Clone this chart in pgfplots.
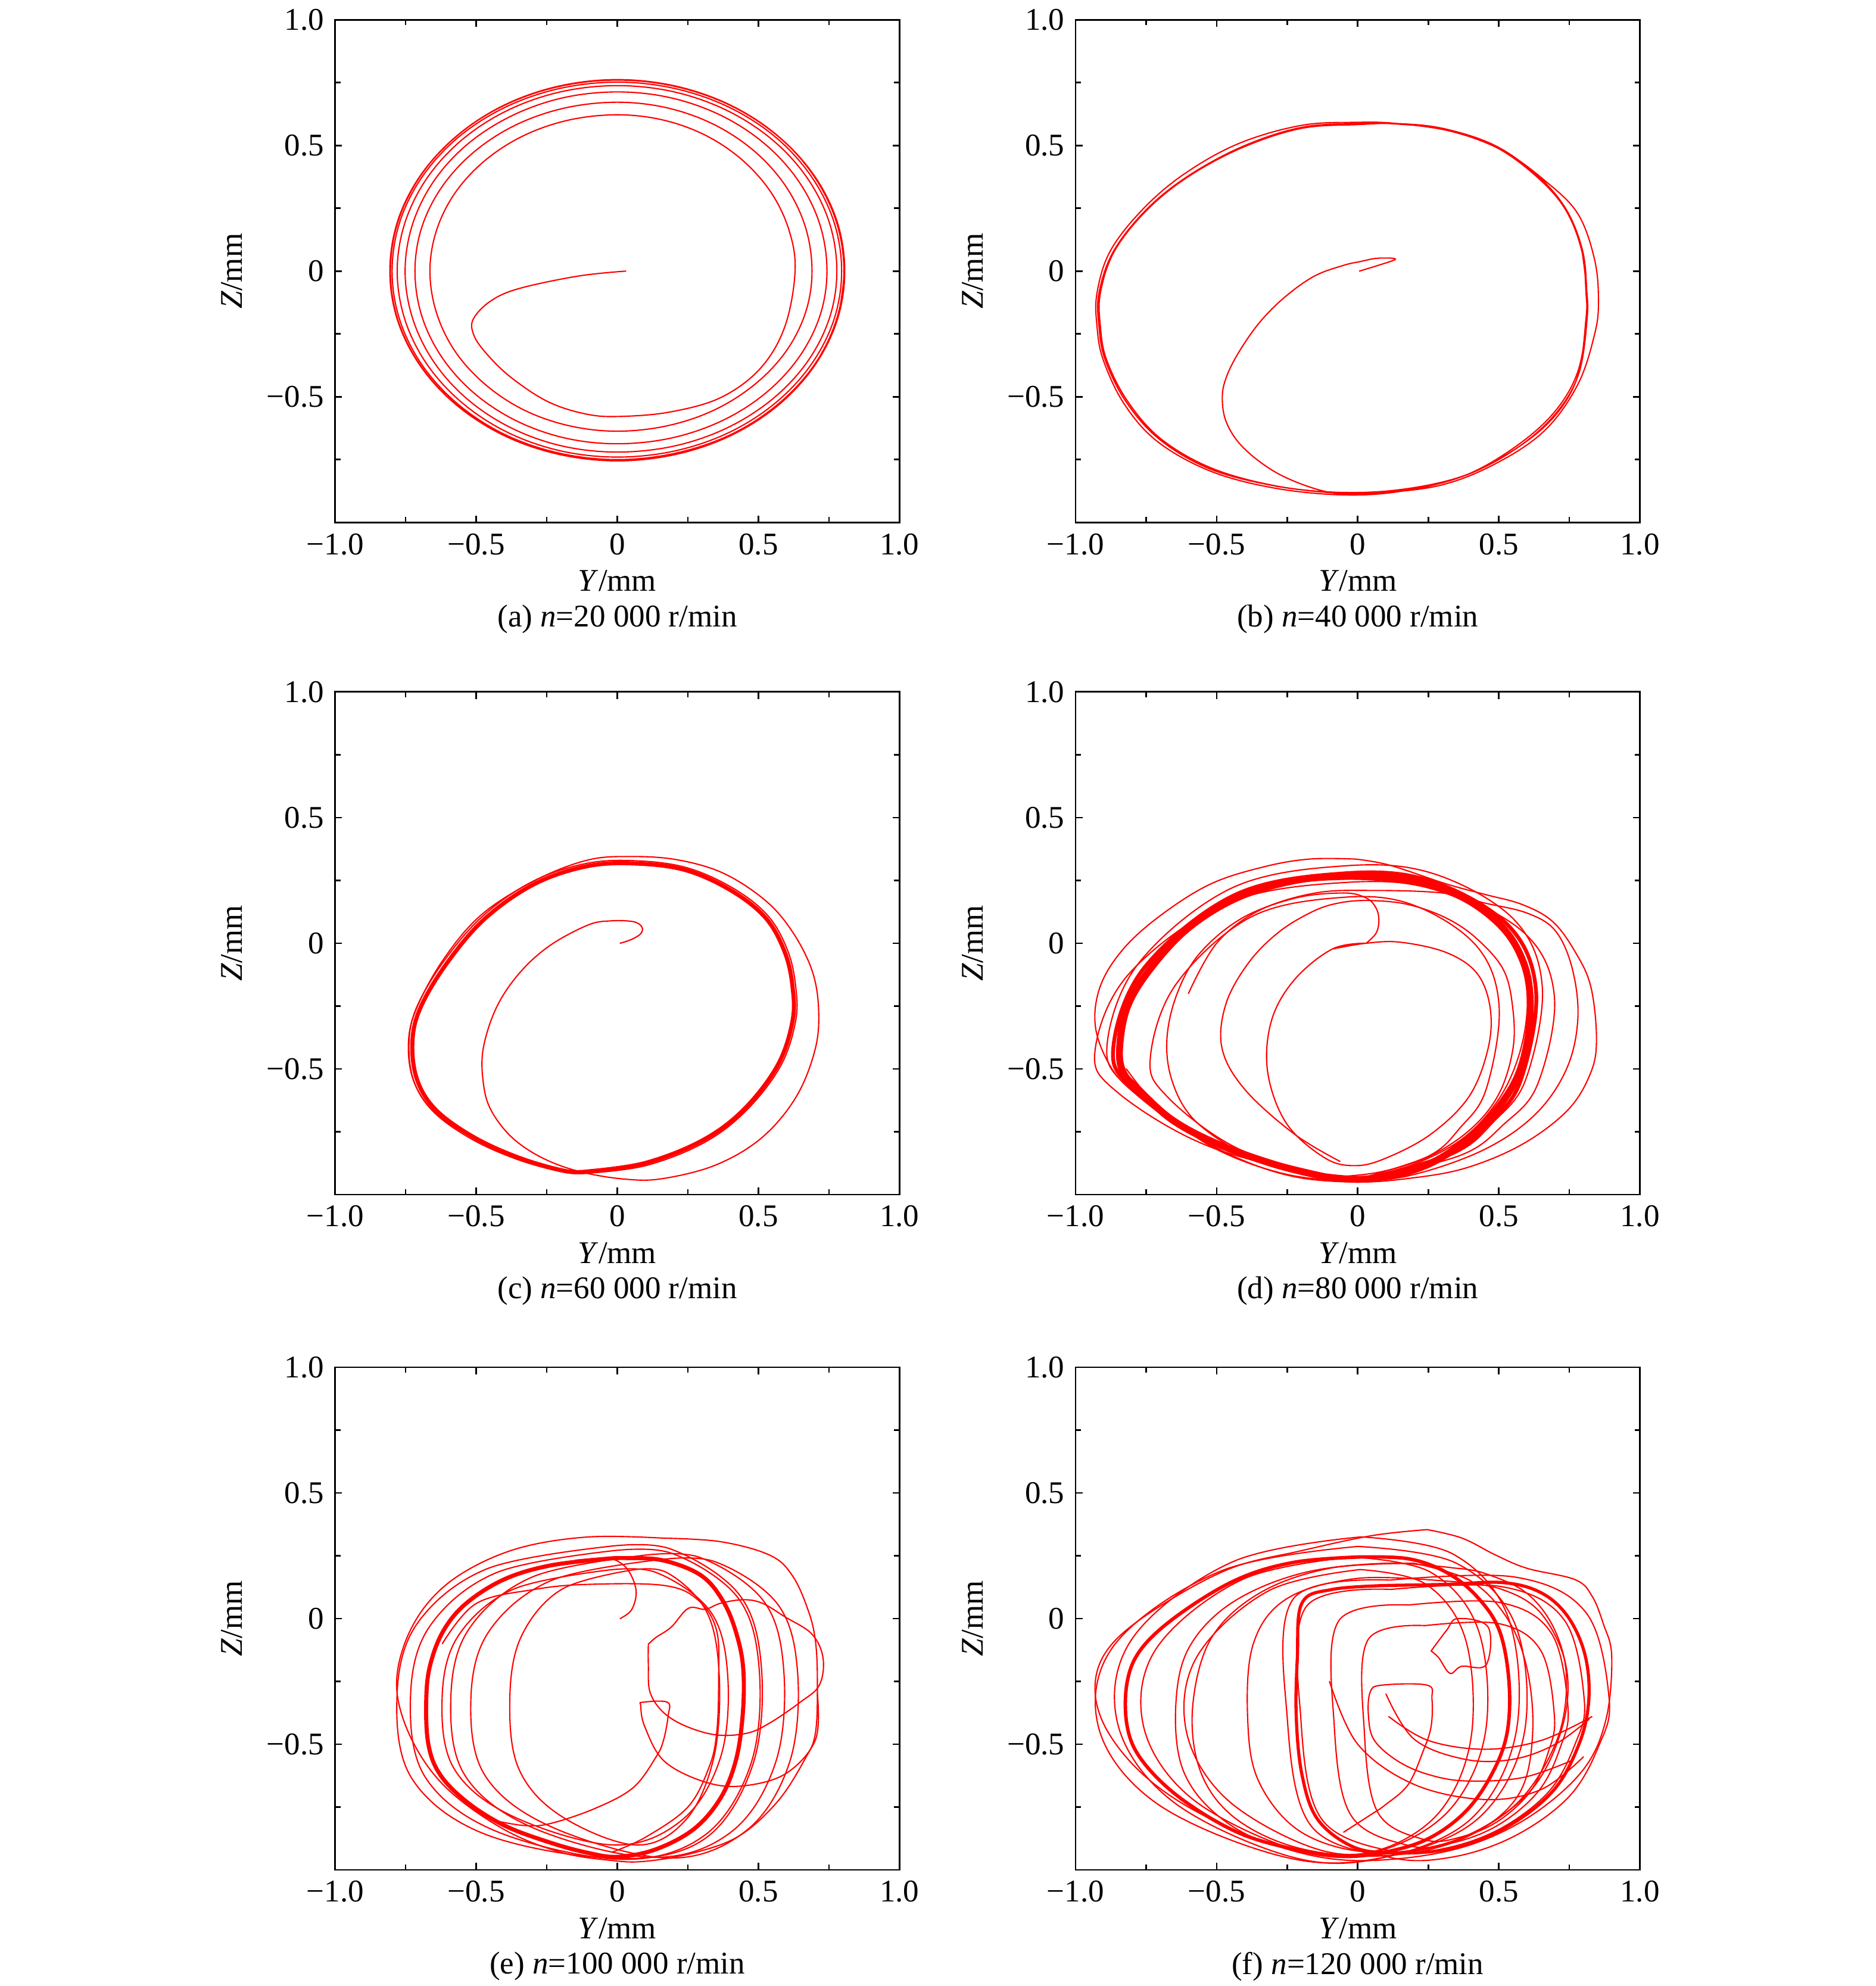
\documentclass[border=0pt]{standalone}
\usepackage{fontspec}
\setmainfont{Liberation Serif}
\usepackage{pgfplots}
\pgfplotsset{compat=1.18}
\pgfplotsset{
  orb/.style={
    scale only axis, width=178.8pt, height=159.25pt,
    anchor=south west,
    xmin=-1, xmax=1, ymin=-1, ymax=1,
    xtick={-1,-0.5,0,0.5,1}, ytick={-1,-0.5,0,0.5,1},
    xticklabels={−1.0,−0.5,0,0.5,1.0},
    yticklabels={,−0.5,0,0.5,1.0},
    minor tick num=1,
    tick align=inside, xtick pos=both, ytick pos=both,
    major tick length=2.2pt, minor tick length=1.7pt,
    tick style={black, line width=0.5pt},
    axis line style={line width=0.55pt},
    xlabel={\textit{Y}/mm}, ylabel={\textit{Z}/mm},
    xlabel style={at={(axis description cs:0.5,-0.116)}, anchor=center},
    ylabel style={at={(axis description cs:-0.1826,0.5)}, anchor=center},
  },
  tr/.style={color=red, line width=0.4pt, smooth, tension=0.6, mark=none, line join=round, line cap=round},
}
\begin{document}
\begin{tikzpicture}
\useasboundingbox (0pt,0pt) rectangle (594.3pt,629.25pt);

% ---------------- (a)
\begin{axis}[orb, name=pa, at={(106.17pt,463.72pt)}]
\addplot[tr] coordinates {
(0.03,0) (-0.14,-0.02) (-0.35,-0.07) (-0.45,-0.12) (-0.51,-0.19) (-0.51,-0.25) (-0.47,-0.32) (-0.38,-0.42) (-0.245,-0.52) (-0.105,-0.57) (0.017,-0.578) (0.19,-0.56) (0.367,-0.503) (0.507,-0.387) (0.594,-0.22)
(0.63,0) (0.609,0.161) (0.546,0.311) (0.445,0.44) (0.315,0.539) (0.163,0.601) (0,0.622) (-0.172,0.601) (-0.332,0.539) (-0.469,0.44) (-0.575,0.311) (-0.641,0.161) (-0.664,0) (-0.641,-0.165) (-0.575,-0.319) (-0.469,-0.45) (-0.332,-0.552) (-0.172,-0.615) (0,-0.637) (0.179,-0.615) (0.345,-0.552) (0.488,-0.45) (0.598,-0.319) (0.667,-0.165)
(0.69,0) (0.667,0.174) (0.598,0.336) (0.488,0.475) (0.345,0.582) (0.179,0.649) (0,0.672) (-0.186,0.649) (-0.359,0.582) (-0.507,0.475) (-0.621,0.336) (-0.693,0.174) (-0.717,0) (-0.693,-0.178) (-0.621,-0.344) (-0.507,-0.486) (-0.359,-0.595) (-0.186,-0.664) (0,-0.687) (0.192,-0.664) (0.372,-0.595) (0.525,-0.486) (0.643,-0.344) (0.718,-0.178)
(0.743,0) (0.718,0.185) (0.643,0.357) (0.525,0.504) (0.372,0.617) (0.192,0.689) (0,0.713) (-0.195,0.689) (-0.376,0.617) (-0.532,0.504) (-0.651,0.357) (-0.726,0.185) (-0.752,0) (-0.726,-0.186) (-0.651,-0.36) (-0.532,-0.509) (-0.376,-0.624) (-0.195,-0.696) (0,-0.72) (0.202,-0.696) (0.389,-0.624) (0.55,-0.509) (0.674,-0.36) (0.752,-0.186)
(0.778,0) (0.752,0.191) (0.674,0.369) (0.55,0.522) (0.389,0.639) (0.202,0.713) (0,0.738) (-0.202,0.713) (-0.39,0.639) (-0.551,0.522) (-0.675,0.369) (-0.753,0.191) (-0.78,0) (-0.753,-0.192) (-0.675,-0.37) (-0.551,-0.523) (-0.39,-0.641) (-0.202,-0.715) (0,-0.74) (0.206,-0.715) (0.398,-0.641) (0.562,-0.523) (0.688,-0.37) (0.768,-0.192)
(0.795,0) (0.768,0.195) (0.688,0.376) (0.562,0.532) (0.398,0.651) (0.206,0.726) (0,0.752) (-0.207,0.726) (-0.399,0.651) (-0.564,0.532) (-0.691,0.376) (-0.771,0.195) (-0.798,0) (-0.771,-0.194) (-0.691,-0.375) (-0.564,-0.53) (-0.399,-0.65) (-0.207,-0.724) (0,-0.75) (0.208,-0.724) (0.403,-0.65) (0.569,-0.53) (0.697,-0.375) (0.778,-0.194)
(0.805,0) (0.778,0.197) (0.697,0.38) (0.569,0.537) (0.403,0.658) (0.208,0.734) (0,0.76) (-0.209,0.734) (-0.403,0.658) (-0.57,0.537) (-0.698,0.38) (-0.779,0.197) (-0.806,0) (-0.779,-0.195) (-0.698,-0.377) (-0.57,-0.533) (-0.403,-0.653) (-0.209,-0.728) (0,-0.754) (0.208,-0.728) (0.402,-0.653) (0.568,-0.533) (0.696,-0.377) (0.776,-0.195)
(0.803,0) (0.776,0.197) (0.695,0.381) (0.568,0.539) (0.402,0.66) (0.208,0.736) (0,0.762) (-0.208,0.736) (-0.402,0.66) (-0.568,0.539) (-0.696,0.381) (-0.777,0.197) (-0.804,0) (-0.777,-0.196) (-0.696,-0.378) (-0.568,-0.534) (-0.402,-0.654) (-0.208,-0.729) (0,-0.755) (0.209,-0.729) (0.403,-0.654) (0.57,-0.534) (0.698,-0.378) (0.779,-0.196)
(0.806,0) (0.779,0.197) (0.698,0.38) (0.57,0.537) (0.403,0.658) (0.209,0.734) (0,0.76) (-0.208,0.734) (-0.403,0.659) (-0.569,0.537) (-0.697,0.38) (-0.778,0.197) (-0.805,0) (-0.778,-0.195) (-0.697,-0.377) (-0.569,-0.533) (-0.403,-0.653) (-0.208,-0.728) (0,-0.754) (0.208,-0.728) (0.402,-0.653) (0.569,-0.533) (0.697,-0.377) (0.778,-0.195) (0.805,0)
};
\end{axis}
\node at ([yshift=-30.58pt]pa.south) {(a) \textit{n}=20 000 r/min};

% ---------------- (b)
\begin{axis}[orb, name=pb, at={(340.75pt,463.72pt)}]
\addplot[tr] coordinates {
(0.006,0) (0.07,0.022) (0.127,0.043) (0.13,0.05) (0.1,0.052) (0.06,0.05) (0.009,0.038) (-0.05,0.023) (-0.154,-0.02) (-0.258,-0.103) (-0.347,-0.203) (-0.42,-0.32) (-0.465,-0.42) (-0.48,-0.503) (-0.465,-0.603) (-0.405,-0.703) (-0.287,-0.803) (-0.139,-0.87) (-0.02,-0.887) (0.142,-0.873) (0.364,-0.82) (0.542,-0.72) (0.69,-0.587) (0.779,-0.42) (0.809,-0.187) (0.809,-0.087) (0.794,0.08) (0.735,0.247) (0.63,0.38) (0.483,0.497) (0.305,0.563) (0.142,0.585) (0,0.587) (-0.199,0.572) (-0.406,0.497) (-0.599,0.38) (-0.747,0.247) (-0.865,0.08) (-0.917,-0.087) (-0.917,-0.22) (-0.895,-0.353) (-0.821,-0.52) (-0.702,-0.67) (-0.524,-0.787) (-0.302,-0.853) (-0.08,-0.883) (0.068,-0.883) (0.29,-0.853) (0.482,-0.77) (0.66,-0.637) (0.779,-0.453) (0.839,-0.253) (0.853,-0.12) (0.839,0.047) (0.779,0.23) (0.66,0.363) (0.513,0.48) (0.335,0.555) (0.142,0.587) (0,0.592) (-0.199,0.58) (-0.421,0.508) (-0.613,0.388) (-0.761,0.247) (-0.877,0.08) (-0.924,-0.087) (-0.924,-0.22) (-0.902,-0.353) (-0.828,-0.528) (-0.71,-0.678) (-0.524,-0.795) (-0.302,-0.862) (-0.065,-0.89) (0.142,-0.878) (0.364,-0.82) (0.542,-0.712) (0.69,-0.57) (0.779,-0.403) (0.812,-0.187) (0.812,-0.087) (0.797,0.08) (0.738,0.247) (0.634,0.383) (0.486,0.5) (0.305,0.567) (0.142,0.587) (0,0.583) (-0.199,0.568) (-0.406,0.493) (-0.599,0.377) (-0.747,0.243) (-0.862,0.08) (-0.912,-0.087) (-0.912,-0.22) (-0.89,-0.353) (-0.816,-0.517) (-0.698,-0.667) (-0.52,-0.783) (-0.298,-0.853) (-0.076,-0.88) (0.147,-0.87) (0.369,-0.817) (0.547,-0.717) (0.693,-0.578) (0.782,-0.412) (0.813,-0.187) (0.81,-0.06) (0.795,0.08)
};
\end{axis}
\node at ([yshift=-30.58pt]pb.south) {(b) \textit{n}=40 000 r/min};

% ---------------- (c)
\begin{axis}[orb, name=pc, at={(106.17pt,250.76pt)}]
\addplot[tr] coordinates {
(0.01,0) (0.05,0.015) (0.083,0.038) (0.087,0.065) (0.056,0.086) (-0.024,0.089) (-0.105,0.072) (-0.24,-0.01) (-0.347,-0.119) (-0.428,-0.255) (-0.475,-0.418) (-0.475,-0.554) (-0.448,-0.663) (-0.374,-0.772) (-0.266,-0.854) (-0.132,-0.909) (0.03,-0.939) (0.164,-0.936) (0.352,-0.881) (0.514,-0.772) (0.635,-0.609) (0.702,-0.418) (0.713,-0.255) (0.689,-0.105) (0.621,0.045) (0.527,0.168) (0.379,0.277) (0.218,0.331) (0.056,0.345) (-0.105,0.331) (-0.293,0.249) (-0.482,0.113) (-0.616,-0.064) (-0.71,-0.255) (-0.74,-0.391) (-0.724,-0.541) (-0.656,-0.663) (-0.535,-0.759) (-0.374,-0.841) (-0.186,-0.909) (-0.105,-0.912)
};
\addplot[tr, line width=1.3pt] coordinates {
(-0.105,-0.908) (0.097,-0.875) (0.299,-0.786) (0.447,-0.663) (0.568,-0.486) (0.621,-0.309) (0.621,-0.173) (0.594,-0.037) (0.527,0.099) (0.406,0.208) (0.245,0.29) (0.07,0.317) (-0.105,0.307) (-0.293,0.236) (-0.468,0.099) (-0.603,-0.078) (-0.697,-0.255) (-0.726,-0.391) (-0.71,-0.541) (-0.643,-0.663) (-0.508,-0.772) (-0.347,-0.854) (-0.186,-0.906) (-0.105,-0.908)
};
\addplot[tr] coordinates {
(-0.105,-0.915) (0.1,-0.885) (0.305,-0.795) (0.455,-0.668) (0.578,-0.49) (0.632,-0.309) (0.632,-0.17) (0.604,-0.03) (0.535,0.108) (0.412,0.218) (0.248,0.3) (0.07,0.328) (-0.108,0.318) (-0.3,0.246) (-0.478,0.107) (-0.615,-0.072) (-0.71,-0.252) (-0.738,-0.391) (-0.722,-0.545) (-0.652,-0.67) (-0.515,-0.78) (-0.35,-0.862) (-0.186,-0.912) (-0.105,-0.915)
};
\end{axis}
\node at ([yshift=-30.58pt]pc.south) {(c) \textit{n}=60 000 r/min};

% ---------------- (d)
\begin{axis}[orb, name=pd, at={(340.75pt,250.76pt)}]
\addplot[tr, line width=2.2pt] coordinates {
(-0.117,-0.929) (0.018,-0.939) (0.179,-0.909) (0.314,-0.841) (0.448,-0.718) (0.556,-0.554) (0.603,-0.377) (0.61,-0.2) (0.583,-0.064) (0.516,0.059) (0.395,0.168) (0.246,0.236) (0.085,0.263) (-0.05,0.266) (-0.225,0.249) (-0.427,0.181) (-0.602,0.059) (-0.737,-0.105) (-0.817,-0.255) (-0.844,-0.418) (-0.831,-0.514) (-0.777,-0.582) (-0.656,-0.704) (-0.494,-0.8) (-0.292,-0.881) (-0.117,-0.929)
};
\addplot[tr, line width=1.2pt] coordinates {
(0.022,-0.939) (0.327,-0.840) (0.465,-0.716) (0.576,-0.550) (0.632,-0.193) (0.535,0.069) (0.257,0.248) (-0.048,0.278) (-0.436,0.192) (-0.756,-0.097) (-0.866,-0.413) (-0.797,-0.578) (-0.505,-0.799) (-0.117,-0.929) (0.022,-0.939)
};
\addplot[tr] coordinates {
(0.026,-0.939) (0.34,-0.838) (0.482,-0.710) (0.596,-0.540) (0.654,-0.174) (0.554,0.094) (0.268,0.277) (-0.046,0.308) (-0.446,0.220) (-0.774,-0.076) (-0.888,-0.400) (-0.817,-0.569) (-0.517,-0.795) (-0.117,-0.929) (0.026,-0.939)
};
\addplot[tr] coordinates {
(0.034,-0.939) (0.366,-0.843) (0.516,-0.722) (0.637,-0.562) (0.697,-0.215) (0.592,0.039) (0.290,0.212) (-0.042,0.242) (-0.464,0.159) (-0.811,-0.122) (-0.931,-0.428) (-0.856,-0.589) (-0.539,-0.803) (-0.117,-0.929) (0.034,-0.939)
};
\addplot[tr] coordinates {
(-0.002,-0.939) (0.249,-0.848) (0.363,-0.734) (0.455,-0.581) (0.501,-0.252) (0.421,-0.011) (0.192,0.154) (-0.060,0.182) (-0.381,0.103) (-0.644,-0.163) (-0.735,-0.455) (-0.678,-0.607) (-0.437,-0.810) (-0.117,-0.93) (-0.002,-0.939)
};
\addplot[tr] coordinates {
(-0.009,0.335) (0.112,0.311) (0.314,0.236) (0.448,0.195) (0.583,0.154) (0.691,0.086) (0.772,-0.037) (0.826,-0.173) (0.846,-0.377) (0.826,-0.514) (0.745,-0.663) (0.583,-0.8) (0.381,-0.895) (0.179,-0.936) (-0.009,-0.95) (-0.225,-0.929) (-0.427,-0.854) (-0.629,-0.732) (-0.777,-0.609) (-0.871,-0.5) (-0.929,-0.337) (-0.913,-0.173) (-0.831,-0.023) (-0.696,0.113) (-0.521,0.236) (-0.333,0.304) (-0.171,0.335) (-0.009,0.335)
};
\addplot[tr] coordinates {
(0.03,0.0) (0.065,0.04) (0.075,0.09) (0.065,0.14) (0.03,0.18) (-0.05,0.2) (-0.22,0.18) (-0.41,0.1) (-0.56,-0.04) (-0.64,-0.2) (-0.676,-0.377) (-0.66,-0.54) (-0.59,-0.69) (-0.45,-0.81) (-0.28,-0.895) (-0.1,-0.93) (0.05,-0.925) (0.22,-0.87) (0.38,-0.77) (0.5,-0.62) (0.57,-0.45) (0.6,-0.27) (0.59,-0.1) (0.53,0.04) (0.41,0.15) (0.25,0.22) (0.08,0.25) (-0.06,0.255)
};
\addplot[tr] coordinates {
(-0.09,-0.023) (0.03,0.0) (0.152,0.004) (0.314,-0.037) (0.422,-0.119) (0.469,-0.255) (0.462,-0.418) (0.395,-0.609) (0.26,-0.759) (0.1,-0.855) (-0.01,-0.885) (-0.117,-0.854) (-0.252,-0.718) (-0.319,-0.514) (-0.306,-0.309) (-0.225,-0.146) (-0.09,-0.023) (0.03,0.0)
};
\addplot[tr] coordinates {
(-0.063,-0.868) (-0.225,-0.759) (-0.4,-0.582) (-0.481,-0.418) (-0.467,-0.241) (-0.387,-0.078) (-0.279,0.045) (-0.158,0.127) (-0.063,0.161) (0.044,0.17) (0.179,0.154) (0.314,0.1) (0.422,0.018) (0.516,-0.105) (0.549,-0.255) (0.55,-0.42) (0.5,-0.6) (0.4,-0.74) (0.25,-0.85) (0.08,-0.91) (-0.08,-0.93)
};
\addplot[tr] coordinates {
(-0.6,-0.2) (-0.5,0.0) (-0.35,0.13) (-0.15,0.2) (0.05,0.21) (0.3,0.2) (0.45,0.16) (0.6,0.12) (0.7,0.05) (0.76,-0.1) (0.78,-0.3) (0.74,-0.5) (0.63,-0.68) (0.45,-0.82) (0.2,-0.92) (0.0,-0.945) (-0.25,-0.92) (-0.5,-0.82) (-0.7,-0.66) (-0.82,-0.5)
};
\end{axis}
\node at ([yshift=-30.58pt]pd.south) {(d) \textit{n}=80 000 r/min};

% ---------------- (e)
\begin{axis}[orb, name=pe, at={(106.17pt,36.79pt)}]
\addplot[tr, line width=1.3pt] coordinates {
(-0.038,0.238) (-0.239,0.211) (-0.401,0.156) (-0.535,0.061) (-0.616,-0.048) (-0.663,-0.184) (-0.677,-0.32) (-0.67,-0.497) (-0.629,-0.619) (-0.535,-0.728) (-0.401,-0.823) (-0.239,-0.891) (-0.105,-0.932) (0.003,-0.948) (0.137,-0.918) (0.272,-0.837) (0.366,-0.714) (0.42,-0.565) (0.444,-0.388) (0.447,-0.211) (0.426,-0.075) (0.379,0.061) (0.299,0.17) (0.164,0.231) (0.03,0.241) (-0.038,0.238)
};
\addplot[tr] coordinates {
(0.01,0) (0.05,0.034) (0.067,0.102) (0.05,0.17) (0.016,0.218) (-0.038,0.24) (-0.15,0.232)
};
\addplot[tr] coordinates {
(-0.030,0.268) (-0.430,0.182) (-0.666,-0.033) (-0.733,-0.318) (-0.680,-0.632) (-0.430,-0.846) (0.015,-0.958) (0.311,-0.861) (0.474,-0.576) (0.503,-0.204) (0.428,0.082) (0.192,0.260) (-0.030,0.268)
};
\addplot[tr] coordinates {
(-0.046,0.285) (-0.464,0.197) (-0.711,-0.023) (-0.781,-0.317) (-0.726,-0.640) (-0.464,-0.860) (0.001,-0.955) (0.310,-0.876) (0.480,-0.582) (0.511,-0.199) (0.433,0.094) (0.186,0.278) (-0.046,0.285)
};
\addplot[tr] coordinates {
(0.081,0.250) (-0.300,0.166) (-0.526,-0.042) (-0.590,-0.319) (-0.540,-0.624) (-0.300,-0.832) (0.124,-0.95) (0.406,-0.847) (0.562,-0.569) (0.590,-0.208) (0.519,0.069) (0.293,0.243) (0.081,0.250)
};
\addplot[tr] coordinates {
(-0.046,0.191) (-0.372,0.115) (-0.566,-0.073) (-0.621,-0.323) (-0.578,-0.598) (-0.372,-0.786) (-0.009,-0.901) (0.233,-0.798) (0.367,-0.548) (0.391,-0.223) (0.330,0.028) (0.136,0.184) (-0.046,0.191)
};
\addplot[tr] coordinates {
(0.041,0.191) (-0.199,0.115) (-0.341,-0.073) (-0.381,-0.323) (-0.349,-0.598) (-0.199,-0.786) (0.068,-0.901) (0.245,-0.798) (0.343,-0.548) (0.361,-0.223) (0.316,0.028) (0.174,0.184) (0.041,0.191)
};
\addplot[tr] coordinates {
(0.139,0.233) (-0.235,0.151) (-0.456,-0.053) (-0.519,-0.325) (-0.469,-0.624) (-0.235,-0.828) (0.182,-0.953) (0.459,-0.842) (0.611,-0.57) (0.639,-0.216) (0.569,0.056) (0.347,0.226) (0.139,0.233)
};
\addplot[tr] coordinates {
(0.11,-0.102) (0.137,-0.075) (0.191,-0.034) (0.252,0.041) (0.312,0.037) (0.366,0.061) (0.447,0.075) (0.514,0.061) (0.594,0.007) (0.689,-0.061) (0.729,-0.156) (0.716,-0.265) (0.648,-0.333) (0.541,-0.415) (0.46,-0.456) (0.352,-0.463) (0.245,-0.429) (0.164,-0.374) (0.116,-0.293) (0.11,-0.184) (0.11,-0.102)
};
\addplot[tr] coordinates {
(0.164,0.32) (0.366,0.306) (0.541,0.252) (0.621,0.17) (0.676,0.034) (0.702,-0.088) (0.709,-0.252) (0.702,-0.456) (0.662,-0.565) (0.568,-0.728) (0.433,-0.864) (0.272,-0.932) (0.097,-0.966) (-0.024,-0.962) (-0.2,-0.93) (-0.4,-0.84) (-0.6,-0.68) (-0.72,-0.5) (-0.78,-0.3) (-0.76,-0.12) (-0.68,0.05) (-0.55,0.18) (-0.35,0.28) (-0.1,0.325) (0.164,0.32)
};
\addplot[tr] coordinates {
(0.709,-0.3) (0.702,-0.483) (0.594,-0.619) (0.433,-0.667) (0.299,-0.646) (0.164,-0.565) (0.097,-0.429) (0.083,-0.347) (0.09,-0.333) (0.178,-0.333) (0.18,-0.388) (0.164,-0.483) (0.137,-0.551) (0.056,-0.673) (-0.078,-0.755) (-0.239,-0.816) (-0.334,-0.823) (-0.45,-0.8)
};
\addplot[tr] coordinates {
(-0.62,-0.1) (-0.5,0.06) (-0.293,0.116) (-0.105,0.136) (0.164,0.132) (0.285,0.075) (0.352,-0.048) (0.359,-0.252) (0.352,-0.456) (0.325,-0.592) (0.25,-0.75) (0.1,-0.87) (-0.02,-0.93)
};
\end{axis}
\node at ([yshift=-30.58pt]pe.south) {(e) \textit{n}=100 000 r/min};

% ---------------- (f)
\begin{axis}[orb, name=pf, at={(340.75pt,36.79pt)}]
\addplot[tr, line width=1.1pt] coordinates {
(0.004,0.245) (-0.225,0.224) (-0.427,0.156) (-0.629,0.02) (-0.764,-0.116) (-0.817,-0.252) (-0.817,-0.429) (-0.764,-0.565) (-0.629,-0.714) (-0.427,-0.85) (-0.225,-0.918) (-0.063,-0.946) (0.085,-0.932) (0.246,-0.878) (0.381,-0.769) (0.475,-0.619) (0.529,-0.456) (0.536,-0.252) (0.502,-0.048) (0.422,0.088) (0.314,0.184) (0.179,0.238) (0.004,0.245)
};
\addplot[tr] coordinates {
(0.001,0.287) (-0.481,0.191) (-0.859,-0.100) (-0.918,-0.435) (-0.708,-0.739) (-0.255,-0.95) (0.092,-0.95) (0.424,-0.798) (0.589,-0.463) (0.559,-0.027) (0.348,0.221) (0.001,0.287)
};
\addplot[tr] coordinates {
(0.011,0.325) (-0.441,0.227) (-0.795,-0.073) (-0.851,-0.417) (-0.653,-0.730) (-0.229,-0.95) (0.096,-0.95) (0.407,-0.791) (0.562,-0.447) (0.534,0.002) (0.337,0.257) (0.011,0.325)
};
\addplot[tr] coordinates {
(0.008,0.195) (-0.315,0.111) (-0.568,-0.148) (-0.608,-0.445) (-0.467,-0.716) (-0.164,-0.910) (0.069,-0.923) (0.291,-0.768) (0.402,-0.471) (0.382,-0.083) (0.241,0.137) (0.008,0.195)
};
\addplot[tr] coordinates {
(-0.020,0.245) (-0.408,0.156) (-0.712,-0.116) (-0.759,-0.429) (-0.590,-0.714) (-0.227,-0.918) (0.053,-0.932) (0.319,-0.769) (0.452,-0.456) (0.428,-0.048) (0.259,0.184) (-0.020,0.245)
};
\addplot[tr, line width=1.0pt] coordinates {
(0.112,0.132) (0.314,0.136) (0.516,0.143) (0.651,0.102) (0.745,0.007) (0.805,-0.143) (0.819,-0.32) (0.785,-0.497) (0.691,-0.687) (0.516,-0.837) (0.314,-0.918) (0.112,-0.932) (-0.023,-0.905) (-0.144,-0.796) (-0.198,-0.619) (-0.218,-0.388) (-0.214,-0.156) (-0.198,0.061) (-0.09,0.116) (0.112,0.132)
};
\addplot[tr] coordinates {
(0.113,0.153) (0.558,0.165) (0.810,0.022) (0.891,-0.321) (0.854,-0.507) (0.750,-0.707) (0.558,-0.864) (0.335,-0.949) (0.113,-0.95) (-0.168,-0.821) (-0.250,-0.393) (-0.228,0.079) (0.113,0.153)
};
\addplot[tr] coordinates {
(0.180,0.054) (0.503,0.064) (0.686,-0.058) (0.745,-0.353) (0.718,-0.512) (0.643,-0.683) (0.503,-0.818) (0.341,-0.891) (0.180,-0.903) (-0.025,-0.781) (-0.084,-0.414) (-0.068,-0.010) (0.180,0.054)
};
\addplot[tr] coordinates {
(0.238,-0.028) (0.500,-0.020) (0.649,-0.128) (0.697,-0.390) (0.675,-0.532) (0.614,-0.684) (0.500,-0.804) (0.369,-0.868) (0.238,-0.880) (0.071,-0.771) (0.023,-0.444) (0.036,-0.085) (0.238,-0.028)
};
\addplot[tr] coordinates {
(0.118,0.116) (0.510,0.127) (0.732,-0.006) (0.803,-0.327) (0.770,-0.500) (0.679,-0.686) (0.510,-0.833) (0.314,-0.913) (0.118,-0.926) (-0.131,-0.793) (-0.202,-0.393) (-0.183,0.047) (0.118,0.116)
};
\addplot[tr] coordinates {
(0.246,0.354) (0.05,0.33) (-0.2,0.27) (-0.45,0.2) (-0.7,0.05) (-0.87,-0.1) (-0.93,-0.25) (-0.9,-0.42) (-0.78,-0.6) (-0.6,-0.75) (-0.35,-0.88) (-0.1,-0.955) (0.15,-0.955) (0.4,-0.9) (0.62,-0.78) (0.8,-0.6) (0.88,-0.4) (0.9,-0.15) (0.87,-0.02) (0.83,0.09) (0.77,0.155) (0.6,0.2) (0.49,0.252) (0.37,0.32) (0.246,0.354)
};
\addplot[tr] coordinates {
(0.35,0.2) (0.1,0.22) (-0.2,0.18) (-0.45,0.06) (-0.6,-0.12) (-0.645,-0.35) (-0.62,-0.6) (-0.5,-0.78) (-0.3,-0.9) (0,-0.94) (0.3,-0.9) (0.55,-0.75) (0.7,-0.5) (0.74,-0.25) (0.7,-0.05) (0.6,0.1) (0.45,0.18) (0.35,0.2)
};
\addplot[tr] coordinates {
(0.3,0.15) (0.0,0.16) (-0.25,0.08) (-0.37,-0.1) (-0.39,-0.4) (-0.35,-0.65) (-0.2,-0.85) (0.05,-0.93) (0.35,-0.88) (0.6,-0.7) (0.72,-0.45) (0.74,-0.2) (0.65,0.02) (0.5,0.12) (0.3,0.15)
};
\addplot[tr] coordinates {
(0.2,0.22) (-0.1,0.2) (-0.35,0.1) (-0.52,-0.08) (-0.585,-0.35) (-0.56,-0.6) (-0.45,-0.78) (-0.25,-0.9) (0.0,-0.945) (0.25,-0.92) (0.45,-0.83) (0.58,-0.68) (0.62,-0.45) (0.6,-0.2) (0.53,0.0) (0.4,0.15) (0.2,0.22)
};
\addplot[tr] coordinates {
(0.26,-0.129) (0.314,-0.048) (0.354,0.0) (0.462,-0.034) (0.455,-0.184) (0.368,-0.19) (0.327,-0.218) (0.287,-0.156) (0.26,-0.129)
};
\addplot[tr] coordinates {
(0.758,-0.565) (0.583,-0.633) (0.381,-0.646) (0.246,-0.619) (0.139,-0.565) (0.058,-0.483) (0.038,-0.388) (0.044,-0.293) (0.085,-0.265) (0.246,-0.265) (0.263,-0.32) (0.26,-0.429) (0.233,-0.524) (0.179,-0.66) (0.098,-0.741) (0.044,-0.782) (-0.05,-0.85)
};
\addplot[tr] coordinates {
(0.1,-0.3) (0.2,-0.48) (0.38,-0.56) (0.55,-0.56) (0.7,-0.5) (0.82,-0.4)
};
\addplot[tr] coordinates {
(-0.1,-0.25) (0.0,-0.5) (0.2,-0.66) (0.45,-0.72) (0.65,-0.68) (0.8,-0.55)
};
\addplot[tr] coordinates {
(0.11,-0.39) (0.25,-0.485) (0.45,-0.52) (0.65,-0.485) (0.83,-0.39)
};
\end{axis}
\node at ([yshift=-30.58pt]pf.south) {(f) \textit{n}=120 000 r/min};
\end{tikzpicture}
\end{document}
